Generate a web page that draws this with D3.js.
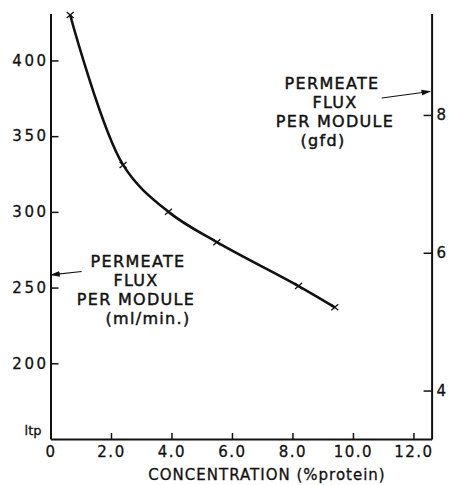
<!DOCTYPE html>
<html>
<head>
<meta charset="utf-8">
<script src="https://cdn.jsdelivr.net/npm/d3@7"></script>
<style>
  body { margin: 0; background: #fff; }
  svg text { font-family: "DejaVu Sans", sans-serif; fill: #111; }
  .axis path, .axis line { stroke: #111; }
  .axis text { font-size: 15px; }
</style>
</head>
<body>
<svg id="chart" width="449" height="485"></svg>
<script>
// data
var concentration = [0.65, 2.4, 3.9, 5.5, 8.2, 9.4];   // % protein
var fluxMl = [430, 331, 300, 280, 251, 237];            // ml/min per module

var xTicks = [0, 2, 4, 6, 8, 10, 12];
var xTickLabels = ["0", "2.0", "4.0", "6.0", "8.0", "10.0", "12.0"];
var yTicks = [200, 250, 300, 350, 400];
var gfdTicks = [4, 6, 8];
var mlPerGfd = 45.5;   // ml/min that equals 1 gfd on the right scale

var leftNote = ["PERMEATE", "FLUX", "PER MODULE", "(ml/min.)"];
var rightNote = ["PERMEATE", "FLUX", "PER MODULE", "(gfd)"];
var xTitle = "CONCENTRATION (%protein)";

var svg = d3.select("#chart");

var x = d3.scaleLinear().domain([0, 12.6]).range([50.5, 431.6]);
var y = d3.scaleLinear().domain([150, 431]).range([439, 13.5]);
var yR = d3.scaleLinear()
    .domain([150 / mlPerGfd, 431 / mlPerGfd])
    .range([439, 13.5]);

// left axis
var gl = svg.append("g")
    .attr("class", "axis")
    .attr("transform", "translate(" + x(0) + ",0)")
    .call(d3.axisLeft(y).tickValues(yTicks).tickSizeInner(-8).tickSizeOuter(0).tickPadding(4));
gl.select(".domain").attr("stroke-width", 2);
gl.selectAll(".tick line").attr("stroke-width", 1.5);
gl.selectAll(".tick text").attr("letter-spacing", "2.5px").attr("dx", 2)
    .attr("font-size", "16px").attr("stroke", "#111").attr("stroke-width", 0.3);

// right axis
var gr = svg.append("g")
    .attr("class", "axis")
    .attr("transform", "translate(" + x(12.6) + ",0)")
    .call(d3.axisRight(yR).tickValues(gfdTicks).tickSizeInner(-8).tickSizeOuter(0).tickPadding(5)
        .tickFormat(d3.format("d")));
gr.select(".domain").attr("stroke-width", 2);
gr.selectAll(".tick line").attr("stroke-width", 1.5);
gr.selectAll(".tick text").attr("font-size", "16px").attr("stroke", "#111").attr("stroke-width", 0.3);

// bottom axis
var gb = svg.append("g")
    .attr("class", "axis")
    .attr("transform", "translate(0," + y(150) + ")")
    .call(d3.axisBottom(x).tickValues(xTicks).tickSizeInner(-6).tickSizeOuter(0).tickPadding(7)
        .tickFormat(function (d, i) { return xTickLabels[i]; }));
gb.select(".domain").attr("stroke-width", 2);
gb.selectAll(".tick line").attr("stroke-width", 1.5);
gb.selectAll(".tick text").attr("letter-spacing", "1.5px")
    .attr("stroke", "#111").attr("stroke-width", 0.3);

// the odd label at the corner of the left axis
svg.append("text")
    .attr("x", x(0) - 9)
    .attr("y", y(150) - 4)
    .attr("text-anchor", "end")
    .attr("font-size", "13px")
    .attr("stroke", "#111").attr("stroke-width", 0.3)
    .text("ltp");

svg.append("text")
    .attr("x", 267)
    .attr("y", 480)
    .attr("text-anchor", "middle")
    .attr("font-size", "15px")
    .attr("letter-spacing", "1px")
    .attr("stroke", "#111").attr("stroke-width", 0.3)
    .text(xTitle);

// curve
var pts = concentration.map(function (c, i) { return [c, fluxMl[i]]; });
var line = d3.line()
    .curve(d3.curveCatmullRom.alpha(0.5))
    .x(function (d) { return x(d[0]); })
    .y(function (d) { return y(d[1]); });

svg.append("path")
    .datum(pts)
    .attr("fill", "none")
    .attr("stroke", "#111")
    .attr("stroke-width", 2.6)
    .attr("d", line);

// x markers
svg.selectAll(".mark")
    .data(pts)
    .enter().append("path")
    .attr("class", "mark")
    .attr("transform", function (d) { return "translate(" + x(d[0]) + "," + y(d[1]) + ")"; })
    .attr("d", "M-3.5,-3L3.5,3M-3.5,3L3.5,-3")
    .attr("stroke", "#111")
    .attr("stroke-width", 1.3);

// notes
function note(lines, cx, yTop, offsets) {
    var t = svg.append("g");
    lines.forEach(function (s, i) {
        t.append("text")
            .attr("x", cx + offsets[i])
            .attr("y", yTop + i * 19)
            .attr("text-anchor", "middle")
            .attr("font-size", "16px")
            .attr("letter-spacing", "1.3px")
            .attr("stroke", "#111")
            .attr("stroke-width", 0.45)
            .text(s);
    });
}
note(leftNote, 136, 267, [2, 0, 0, 12]);
note(rightNote, 334, 89, [-2, 1, 1, -11]);

// arrows
var defs = svg.append("defs");
defs.append("marker")
    .attr("id", "head")
    .attr("viewBox", "0 0 10 10")
    .attr("refX", 9).attr("refY", 5)
    .attr("markerWidth", 8).attr("markerHeight", 8)
    .attr("orient", "auto")
    .append("path")
    .attr("d", "M0,2L10,5L0,8Z")
    .attr("fill", "#111");

var arrows = [
    { from: [1.03, 260.6], to: [0.02, 258.4] },
    { from: [10.95, 375.2], to: [12.55, 379.5] }
];
svg.selectAll(".arrow")
    .data(arrows)
    .enter().append("line")
    .attr("class", "arrow")
    .attr("x1", function (d) { return x(d.from[0]); })
    .attr("y1", function (d) { return y(d.from[1]); })
    .attr("x2", function (d) { return x(d.to[0]); })
    .attr("y2", function (d) { return y(d.to[1]); })
    .attr("stroke", "#111")
    .attr("stroke-width", 1.2)
    .attr("marker-end", "url(#head)");
</script>
</body>
</html>
